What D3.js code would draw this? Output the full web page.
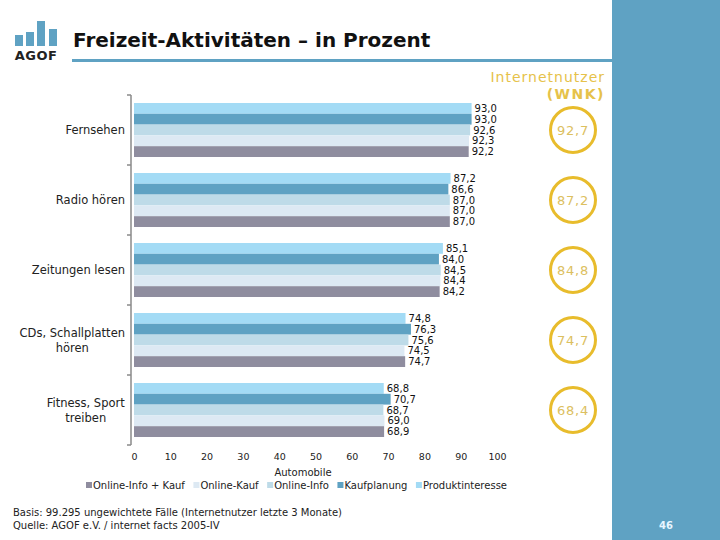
<!DOCTYPE html>
<html><head><meta charset="utf-8">
<script src="https://cdn.jsdelivr.net/npm/d3@7"></script>
<style>body{margin:0;background:#fff}svg{display:block}text{font-family:"DejaVu Sans",Verdana,sans-serif}</style>
</head><body>
<script>
const categories = ["Fernsehen","Radio hören","Zeitungen lesen","CDs, Schallplatten\nhören","Fitness, Sport\ntreiben"];
const seriesNames = ["Produktinteresse","Kaufplanung","Online-Info","Online-Kauf","Online-Info + Kauf"];
const produktinteresse = [93.0,87.2,85.1,74.8,68.8];
const kaufplanung      = [93.0,86.6,84.0,76.3,70.7];
const onlineInfo       = [92.6,87.0,84.5,75.6,68.7];
const onlineKauf       = [92.3,87.0,84.4,74.5,69.0];
const onlineInfoKauf   = [92.2,87.0,84.2,74.7,68.9];
const wnk = [92.7,87.2,84.8,74.7,68.4];
const xTicks = [0,10,20,30,40,50,60,70,80,90,100];
const legendOrder = ["Online-Info + Kauf","Online-Kauf","Online-Info","Kaufplanung","Produktinteresse"];
const colors = {"Produktinteresse":"#a3dbf5","Kaufplanung":"#5fa2c3","Online-Info":"#bedbe8","Online-Kauf":"#dde9f3","Online-Info + Kauf":"#8f8d9f"};
const seriesValues = [produktinteresse,kaufplanung,onlineInfo,onlineKauf,onlineInfoKauf];
const fmt = v => v.toFixed(1).replace(".", ",");

const svg = d3.select("body").append("svg").attr("width",720).attr("height",540);
const blue = "#5fa2c3", gold = "#e8bc2c";

// right panel & header
svg.append("rect").attr("x",612).attr("y",0).attr("width",108).attr("height",540).attr("fill",blue);
svg.append("rect").attr("x",72).attr("y",59).attr("width",540).attr("height",3).attr("fill",blue);
// logo
const logo = svg.append("g");
[[15,35],[26,32],[37,21],[49,29]].forEach(([lx,ly])=>logo.append("rect").attr("x",lx).attr("y",ly).attr("width",8).attr("height",46-ly).attr("fill",blue));
logo.append("text").attr("x",36).attr("y",60).attr("text-anchor","middle").attr("font-size",13).attr("font-weight","bold").attr("fill","#222").attr("letter-spacing",0.5).text("AGOF");
svg.append("text").attr("x",73).attr("y",47).attr("font-size",20).attr("font-weight","bold").attr("fill","#111").text("Freizeit-Aktivitäten – in Prozent");

const x = d3.scaleLinear().domain([0,100]).range([134,497]);
const y = d3.scaleBand().domain(categories).range([95,445]);
const yi = d3.scaleBand().domain(seriesNames).range([8,62]);

// bars
const groups = svg.append("g").selectAll("g").data(categories).join("g")
  .attr("transform", c => `translate(0,${y(c)})`);
seriesNames.forEach((s,si)=>{
  groups.append("rect").attr("x",x(0)).attr("y",yi(s)).attr("height",yi.bandwidth())
    .attr("width",(c,ci)=>x(seriesValues[si][ci])-x(0)).attr("fill",colors[s]);
  groups.append("text").attr("x",(c,ci)=>x(seriesValues[si][ci])+3).attr("y",yi(s)+yi.bandwidth()/2)
    .attr("dy","0.36em").attr("font-size",10).attr("fill","#111").text((c,ci)=>fmt(seriesValues[si][ci]));
});

// y axis
const ax = svg.append("g").attr("stroke","#8a8a8a").attr("stroke-width",1.5);
ax.append("line").attr("x1",131).attr("x2",131).attr("y1",y.range()[0]).attr("y2",y.range()[1]);
const bounds = categories.map(c=>y(c)).concat([y.range()[1]]);
ax.selectAll("line.t").data(bounds).join("line").attr("class","t").attr("x1",127).attr("x2",131).attr("y1",d=>d).attr("y2",d=>d);

// category labels
categories.forEach(c=>{
  const lines = c.split("\n");
  const cx = y(c)+y.bandwidth()/2;
  const t = svg.append("text").attr("font-size",11.5).attr("fill","#222").attr("y",cx);
  lines.forEach((ln,i)=>{
    t.append("tspan").attr("x",125).attr("y",cx + (i-(lines.length-1)/2)*15).attr("dy","0.36em").text(ln);
  });
  if(lines.length>1){
    const w = t.node().getBBox().width;
    t.selectAll("tspan").attr("text-anchor","middle").attr("x",125-w/2);
  } else t.attr("text-anchor","end").select("tspan").attr("text-anchor","end");
});

// x axis
const xa = svg.append("g").attr("transform","translate(0,451)")
  .call(d3.axisBottom(x).tickValues(xTicks).tickSize(0).tickPadding(2));
xa.select(".domain").remove();
xa.selectAll("text").attr("font-size",9.5).attr("fill","#222").attr("font-family","DejaVu Sans");
svg.append("text").attr("x",303).attr("y",476).attr("text-anchor","middle").attr("font-size",10).attr("fill","#222").text("Automobile");

// legend
let lx = 86;
legendOrder.forEach(s=>{
  svg.append("rect").attr("x",lx).attr("y",482).attr("width",6).attr("height",6).attr("fill",colors[s]);
  const t = svg.append("text").attr("x",lx+7).attr("y",489).attr("font-size",10).attr("fill","#222").text(s);
  lx += 7 + t.node().getComputedTextLength() + 8.5;
});

// WNK column
svg.append("text").attr("x",605).attr("y",82).attr("text-anchor","end").attr("font-size",14).attr("letter-spacing",1).attr("fill","#e6c24a").text("Internetnutzer");
svg.append("text").attr("x",605).attr("y",99).attr("text-anchor","end").attr("font-size",14).attr("font-weight","bold").attr("letter-spacing",1.5).attr("fill","#e6c24a").text("(WNK)");
categories.forEach((c,i)=>{
  const cy = y(c)+y.bandwidth()/2;
  svg.append("circle").attr("cx",573).attr("cy",cy).attr("r",22.5).attr("fill","none").attr("stroke",gold).attr("stroke-width",3);
  svg.append("text").attr("x",573).attr("y",cy).attr("dy","0.36em").attr("text-anchor","middle").attr("font-size",13).attr("letter-spacing",0.8).attr("fill","#dcc060").text(fmt(wnk[i]));
});

// footer
svg.append("text").attr("x",13).attr("y",516).attr("font-size",10).attr("fill","#222").text("Basis: 99.295 ungewichtete Fälle (Internetnutzer letzte 3 Monate)");
svg.append("text").attr("x",13).attr("y",529).attr("font-size",10).attr("fill","#222").text("Quelle: AGOF e.V. / internet facts 2005-IV");
svg.append("text").attr("x",666).attr("y",529).attr("text-anchor","middle").attr("font-size",10).attr("font-weight","bold").attr("fill","#e8f6ff").text("46");
</script>
</body></html>
